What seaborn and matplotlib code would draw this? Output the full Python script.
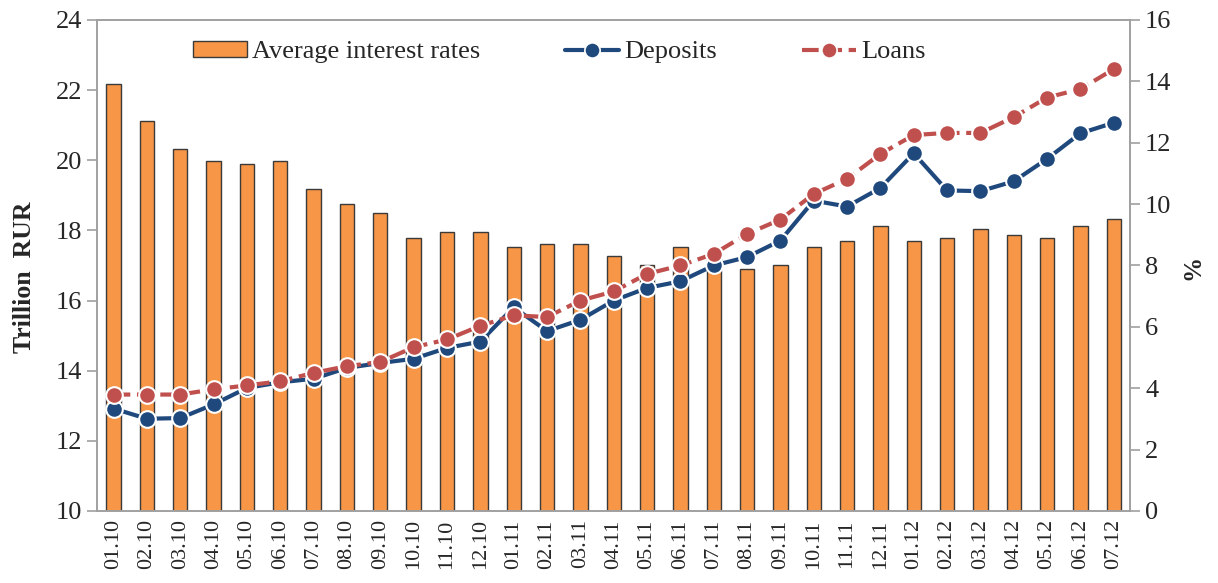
import numpy as np
import pandas as pd
import matplotlib
matplotlib.use("Agg")
import matplotlib.pyplot as plt
import seaborn as sns
from matplotlib.patches import Patch
from matplotlib.lines import Line2D

months = ["01.10", "02.10", "03.10", "04.10", "05.10", "06.10", "07.10", "08.10",
          "09.10", "10.10", "11.10", "12.10", "01.11", "02.11", "03.11", "04.11",
          "05.11", "06.11", "07.11", "08.11", "09.11", "10.11", "11.11", "12.11",
          "01.12", "02.12", "03.12", "04.12", "05.12", "06.12", "07.12"]

# Average interest rates, % (right axis)
rates = [13.9, 12.7, 11.8, 11.4, 11.3, 11.4, 10.5, 10.0, 9.7, 8.9, 9.1, 9.1,
         8.6, 8.7, 8.7, 8.3, 8.0, 8.6, 8.2, 7.9, 8.0, 8.6, 8.8, 9.3,
         8.8, 8.9, 9.2, 9.0, 8.9, 9.3, 9.5]

# Trillion RUR (left axis)
deposits = [12.92, 12.63, 12.65, 13.04, 13.51, 13.67, 13.77, 14.08, 14.22, 14.34, 14.65, 14.83,
            15.81, 15.13, 15.45, 16.00, 16.36, 16.55, 17.00, 17.24, 17.71, 18.85, 18.68, 19.21,
            20.20, 19.14, 19.12, 19.40, 20.04, 20.77, 21.07]
loans = [13.32, 13.32, 13.32, 13.47, 13.58, 13.70, 13.94, 14.13, 14.25, 14.67, 14.89, 15.28,
         15.58, 15.53, 16.00, 16.26, 16.76, 17.00, 17.33, 17.90, 18.31, 19.04, 19.47, 20.18,
         20.72, 20.78, 20.78, 21.23, 21.79, 22.03, 22.60]

df = pd.DataFrame({"month": months, "idx": np.arange(len(months)),
                   "rate": rates, "deposits": deposits, "loans": loans})

sns.set_style("white")
plt.rcParams["font.family"] = ["Liberation Serif", "DejaVu Serif"]

BAR_C = "#F79646"
DEP_C = "#1F497D"
LOAN_C = "#C0504D"
SPINE_C = "#A0A0A0"

fig = plt.figure(figsize=(12.18, 5.83), dpi=100)
ax = fig.add_axes([0.0796, 0.1235, 0.8485, 0.8422])
ax2 = ax.twinx()

# bars on right (%) axis
sns.barplot(data=df, x="month", y="rate", ax=ax2, color=BAR_C, saturation=1,
            width=0.43, edgecolor="#3a3a3a", linewidth=1.0)

# lines on left axis
sns.lineplot(data=df, x="idx", y="deposits", ax=ax, color=DEP_C, linewidth=3,
             marker="o", markersize=12, markeredgecolor="white", markeredgewidth=1.5)
sns.lineplot(data=df, x="idx", y="loans", ax=ax, color=LOAN_C, linewidth=3,
             linestyle=(0, (4, 1.6)), marker="o", markersize=12,
             markeredgecolor="white", markeredgewidth=1.5)

ax.set_zorder(ax2.get_zorder() + 1)
ax.patch.set_visible(False)

n = len(months)
for a in (ax, ax2):
    a.set_xlim(-0.5, n - 0.5)

ax.set_ylim(10, 24)
ax.set_yticks(np.arange(10, 25, 2))
ax2.set_ylim(0, 16)
ax2.set_yticks(np.arange(0, 17, 2))

ax.set_xticks(np.arange(n))
ax.set_xticklabels(months, rotation=90, fontsize=16)
ax.set_xticks(np.arange(-0.5, n, 1), minor=True)
ax.tick_params(axis="x", which="major", length=0, pad=6)
ax.tick_params(axis="x", which="minor", length=7, color=SPINE_C, width=1.2)
ax2.tick_params(axis="x", which="both", length=0, labelbottom=False)
ax2.set_xlabel("")

ax.tick_params(axis="y", labelsize=19, length=7, color=SPINE_C, width=1.2, direction="out", left=True)
ax2.tick_params(axis="y", labelsize=19, length=7, color=SPINE_C, width=1.2, direction="out", right=True)

ax.set_xlabel("")
ax.set_ylabel("Trillion  RUR", fontsize=18.5, fontweight="bold")
ax.yaxis.set_label_coords(-0.059, 0.477)
ax2.set_ylabel("%", fontsize=18, fontweight="bold")
ax2.yaxis.set_label_coords(1.0494, 0.497)

for a in (ax, ax2):
    for s in a.spines.values():
        s.set_color(SPINE_C)
        s.set_linewidth(1.2)

handles = [
    Patch(facecolor=BAR_C, edgecolor="#3a3a3a", linewidth=1.0),
    Line2D([], [], color=DEP_C, linewidth=3, marker="o", markersize=11,
           markeredgecolor="white", markeredgewidth=1.2),
    Line2D([], [], color=LOAN_C, linewidth=3, linestyle=(0, (4, 1.6)), marker="o",
           markersize=11, markeredgecolor="white", markeredgewidth=1.2),
]
labels = ["Average interest rates", "Deposits", "Loans"]
leg = ax.legend(handles, labels, loc="upper left", bbox_to_anchor=(193 / 1218, 0.9297),
                bbox_transform=fig.transFigure, borderpad=0, borderaxespad=0,
                ncol=3, frameon=False, fontsize=19, handlelength=2.05, handleheight=0.55,
                handletextpad=0.2, columnspacing=3.2)

fig.savefig("out.png", dpi=100)
